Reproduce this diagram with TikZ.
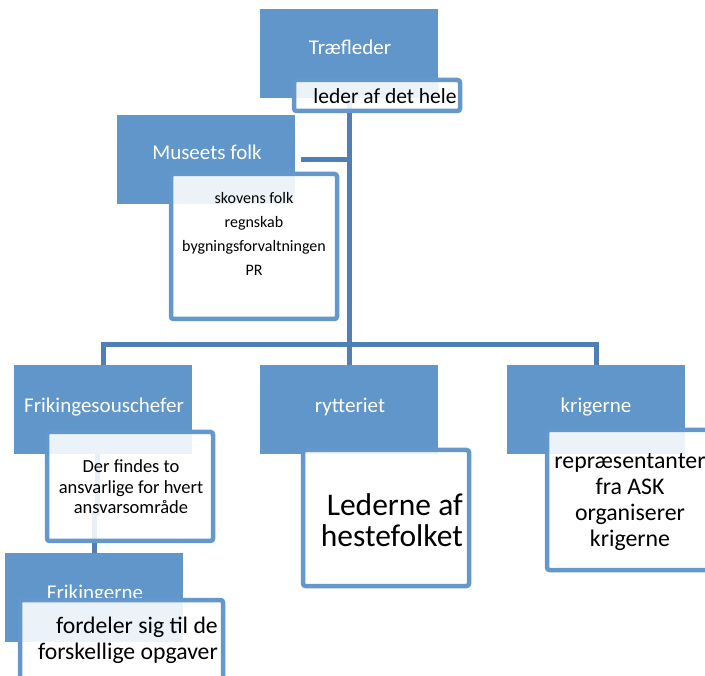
\documentclass[tikz,border=0pt]{standalone}
\usepackage{fontspec}
\setmainfont{Carlito}
\definecolor{boxblue}{RGB}{96,150,202}
\definecolor{edgeblue}{RGB}{100,152,204}
\definecolor{linkblue}{RGB}{79,127,181}
\tikzset{
 bluebox/.style={fill=boxblue, draw=none, minimum width=178pt, minimum height=89pt, inner sep=0pt, outer sep=0pt, anchor=north west},
 lbl/.style={text=white, font=\fontsize{21}{25}\selectfont, inner sep=0pt},
 notebox/.style={draw=edgeblue, line width=4.5pt, fill=white, fill opacity=0.88, rounded corners=2.5pt, inner sep=0pt, outer sep=0pt, anchor=north west},
 note/.style={text=black, inner sep=0pt, align=center},
 link/.style={draw=linkblue, line width=5pt},
}
\begin{document}
\begin{tikzpicture}[x=1pt,y=-1pt]
\useasboundingbox (0,0) rectangle (705,676);
\clip (0,0) rectangle (705,676);
% blue boxes
\node[bluebox] (tf) at (260,9) {};
\node[bluebox] (mf) at (117,115) {};
\node[bluebox] (fs) at (14,365) {};
\node[bluebox] (ry) at (260,365) {};
\node[bluebox] (kr) at (507,365) {};
\node[bluebox] (fk) at (5,553) {};
% connectors
\draw[link] (ry.north) -- (tf.south);
\draw[link] (fs.north) -- ++(0,-20) -| (kr.north);
\draw[link, shorten <=6pt] (mf.east) -- (mf.east -| tf.south);
\draw[link] ([xshift=-6pt]fs.south) -- ++(0,60) -| (fk.north);
% labels
\node[lbl] (tfl) at (350,47) {Træfleder};
\node[lbl] (mfl) at (207,152) {Museets folk};
\node[lbl] (fsl) at (104,407) {Frikingesouschefer};
\node[lbl] (ryl) at (350,407) {rytteriet};
\node[lbl] (krl) at (596,407) {krigerne};
\node[lbl] (fkl) at (95,594) {Frikingerne};
% note boxes
\node[notebox, minimum width=166pt, minimum height=31pt] (tfn) at (294,80) {};
\node[notebox, minimum width=166pt, minimum height=145pt] (mfn) at (171,174) {};
\node[notebox, minimum width=166pt, minimum height=109pt] (fsn) at (47,432) {};
\node[notebox, minimum width=166pt, minimum height=136pt] (ryn) at (303,450) {};
\node[notebox, minimum width=183pt, minimum height=140pt] (krn) at (547,430) {};
\node[notebox, minimum width=203pt, minimum height=100pt] (fkn) at (20,600) {};
% note texts
\node[note, font=\fontsize{21.5}{26}\selectfont] (tft) at (385,96) {leder af det hele};
\node[note, font=\fontsize{16}{24}\selectfont] (mft) at (254,234) {skovens folk\\regnskab\\bygningsforvaltningen\\PR};
\node[note, font=\fontsize{18.5}{20.5}\selectfont] (fst) at (131,487) {Der findes to\\ansvarlige for hvert\\ansvarsområde};
\node[note, align=right, anchor=east, font=\fontsize{31.5}{30.5}\selectfont] (ryt) at (463,520) {Lederne af\\hestefolket};
\node[note, font=\fontsize{23.8}{26.3}\selectfont] (krt) at (630,502) {repræsentanter\\fra ASK\\organiserer\\krigerne};
\node[note, align=right, anchor=east, font=\fontsize{23.7}{26}\selectfont] (fkt) at (218,640) {fordeler sig til de\\forskellige opgaver};
\end{tikzpicture}
\end{document}
